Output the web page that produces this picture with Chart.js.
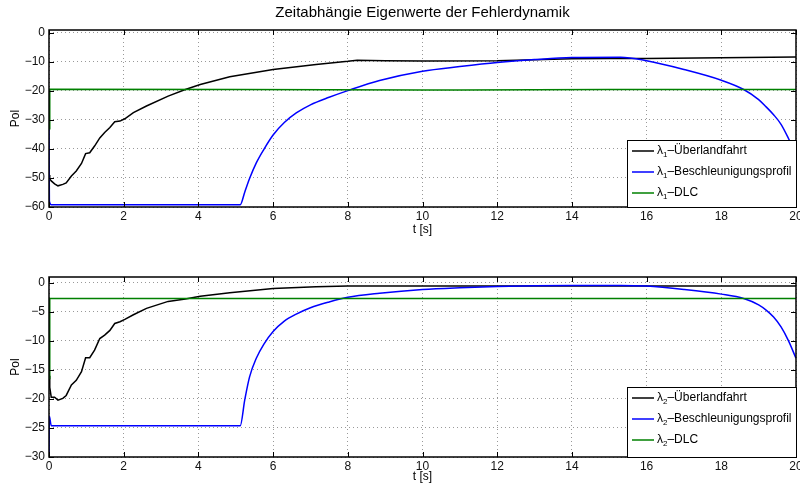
<!DOCTYPE html>
<html>
<head>
<meta charset="utf-8">
<script src="https://cdn.jsdelivr.net/npm/chart.js@4"></script>
<style>
  html, body { margin: 0; padding: 0; background: #fff; }
  #wrap { position: relative; width: 800px; height: 484px; }
  canvas { position: absolute; left: 0; }
</style>
</head>
<body>
<div id="wrap">
  <canvas id="chart1" width="800" height="242" style="top:0"></canvas>
  <canvas id="chart2" width="800" height="242" style="top:242px"></canvas>
</div>
<script>
// Zeitachsen (s)
const tUeber = [0, 0.02, 0.06, 0.15, 0.24, 0.37, 0.46, 0.6, 0.73, 0.87, 0.98, 1.09, 1.22, 1.36, 1.49, 1.63,
  1.76, 1.9, 2.03, 2.26, 2.61, 3.19, 3.65, 4.05, 4.84, 6, 7.15, 8, 8.25, 9, 10, 12, 14, 15, 16, 18, 20];
const tBeschl = [0, 0.01, 0.06, 5.12, 5.24, 5.37, 5.55, 5.75, 6, 6.3, 6.62, 7, 7.5, 8, 8.85, 10,
  11, 12, 13, 14, 15.3, 16, 17, 18, 18.6, 19, 19.2, 19.4, 19.6, 19.8, 20];
const tDlc = [0, 0.02, 5, 10, 11, 15, 20];

// Eigenwert 1
const l1Ueber = [-49, -50.3, -51, -52, -52.7, -52.2, -51.7, -49.3, -47.6, -45, -41.6, -41.3, -39, -36.2, -34.3, -32.6,
  -30.6, -30.4, -29.6, -27.5, -25.2, -21.8, -19.5, -17.8, -15.1, -12.6, -10.9, -9.8, -9.4, -9.6, -9.7, -9.6, -8.9, -8.8, -8.8, -8.6, -8.3];
const l1Beschl = [-33, -58, -59.2, -59.2, -54.9, -50.2, -44.8, -40.2, -35.2, -30.9, -27.6, -24.8, -22.2, -19.9, -16.4, -13.2,
  -11.6, -10.2, -9.2, -8.5, -8.4, -9.6, -12.6, -16.3, -19.5, -23, -25.5, -28.2, -31.5, -36.4, -42];
const l1Dlc = [-33, -19.4, -19.5, -19.7, -19.7, -19.5, -19.5];

// Eigenwert 2
const l2Ueber = [-16, -18, -19.7, -19.7, -20.2, -19.9, -19.4, -17.6, -16.8, -15.3, -12.9, -12.9, -11.6, -9.6, -9, -8.2,
  -7, -6.7, -6.3, -5.5, -4.4, -3.2, -2.8, -2.3, -1.7, -1, -0.7, -0.55, -0.55, -0.55, -0.55, -0.55, -0.55, -0.55, -0.55, -0.55, -0.55];
const l2Beschl = [-30, -23, -24.6, -24.6, -20.2, -16.2, -13, -10.6, -8.4, -6.6, -5.4, -4.3, -3.3, -2.5, -1.8, -1.15,
  -0.85, -0.65, -0.5, -0.45, -0.45, -0.57, -1.15, -1.95, -2.7, -3.8, -4.7, -5.9, -7.6, -10, -13];
const l2Dlc = [-16.5, -2.7, -2.7, -2.7, -2.7, -2.7, -2.7];

const seriesNames = ['Überlandfahrt', 'Beschleunigungsprofil', 'DLC'];
const seriesColors = ['#000000', '#0000ff', '#008000'];
const xTicks = { min: 0, max: 20, step: 2 };

const FONT = "'Liberation Sans', Arial, Helvetica, sans-serif";
Chart.defaults.font.family = FONT;
Chart.defaults.color = '#111';

const pts = (t, v) => t.map((x, i) => ({ x: x, y: v[i] }));
const minus = v => String(v).replace('-', '\u2212');

// Rahmen mit nach innen zeigenden Ticks
const axesFrame = {
  id: 'axesFrame',
  afterDatasetsDraw(chart) {
    const { ctx, chartArea: a, scales: { x, y } } = chart;
    ctx.save();
    ctx.strokeStyle = '#000';
    ctx.lineWidth = 1;
    ctx.beginPath();
    x.ticks.forEach(t => {
      const px = Math.round(x.getPixelForValue(t.value)) + 0.5;
      ctx.moveTo(px, a.top); ctx.lineTo(px, a.top + 5);
      ctx.moveTo(px, a.bottom); ctx.lineTo(px, a.bottom - 5);
    });
    y.ticks.forEach(t => {
      const py = Math.round(y.getPixelForValue(t.value)) + 0.5;
      ctx.moveTo(a.left, py); ctx.lineTo(a.left + 5, py);
      ctx.moveTo(a.right, py); ctx.lineTo(a.right - 5, py);
    });
    ctx.stroke();
    ctx.lineWidth = 1.5;
    ctx.strokeRect(a.left, a.top, a.right - a.left, a.bottom - a.top);
    ctx.restore();
  }
};

// Legende unten rechts mit tiefgestelltem Index
const subLegend = {
  id: 'subLegend',
  afterDraw(chart, args, opts) {
    const { ctx, chartArea: a } = chart;
    const w = 170, h = opts.height;
    const left = a.right - w + 1, top = a.bottom - h;
    ctx.save();
    ctx.fillStyle = '#fff';
    ctx.fillRect(left, top, w, h);
    ctx.strokeStyle = '#000';
    ctx.lineWidth = 1;
    ctx.strokeRect(left + 0.5, top + 0.5, w - 1, h);
    chart.data.datasets.forEach((ds, i) => {
      const cy = top + 11 + i * 21;
      ctx.strokeStyle = ds.borderColor;
      ctx.lineWidth = 1.5;
      ctx.beginPath();
      ctx.moveTo(left + 5, cy);
      ctx.lineTo(left + 27, cy);
      ctx.stroke();
      ctx.fillStyle = '#000';
      ctx.textBaseline = 'middle';
      let tx = left + 30;
      ctx.font = '12px ' + FONT;
      ctx.fillText('\u03bb', tx, cy);
      tx += ctx.measureText('\u03bb').width;
      ctx.font = '8px ' + FONT;
      ctx.fillText(opts.index, tx, cy + 4);
      tx += ctx.measureText(opts.index).width;
      ctx.font = '12px ' + FONT;
      ctx.fillText('\u2013' + ds.label, tx, cy);
    });
    ctx.restore();
  }
};

function makeChart(id, idx, data, yMin, yStep, opts) {
  const datasets = data.map((d, i) => ({
    label: seriesNames[i],
    data: pts(d[0], d[1]),
    borderColor: seriesColors[i],
    borderWidth: 1.5,
    pointRadius: 0,
    fill: false,
    order: 3 - i,
    cubicInterpolationMode: i === 1 ? 'monotone' : 'default',
    tension: 0
  }));
  return new Chart(document.getElementById(id), {
    type: 'line',
    data: { datasets: datasets },
    plugins: [axesFrame, subLegend],
    options: {
      responsive: false,
      animation: false,
      layout: { padding: { left: 0, right: 4, top: opts.padTop, bottom: 0 } },
      plugins: {
        legend: { display: false },
        tooltip: { enabled: false },
        title: {
          display: !!opts.title,
          text: opts.title,
          fullSize: false,
          color: '#000',
          font: { size: 15, weight: 'normal' },
          padding: { top: 4, bottom: 8 }
        },
        subLegend: { index: idx, height: opts.legendHeight }
      },
      scales: {
        x: {
          type: 'linear',
          min: xTicks.min,
          max: xTicks.max,
          border: { display: false, dash: [1, 3] },
          grid: { color: '#999', drawTicks: false, tickLength: 0 },
          ticks: { stepSize: xTicks.step, padding: 2, font: { size: 12 }, maxRotation: 0, callback: minus },
          title: { display: true, text: 't [s]', color: '#000', font: { size: 12 }, padding: { top: 0, bottom: opts.xTitlePad } },
          afterFit(s) { s.height = opts.xHeight; s.paddingLeft = 0; s.paddingRight = 0; }
        },
        y: {
          type: 'linear',
          min: yMin,
          max: 1,
          border: { display: false, dash: [1, 3] },
          grid: { color: '#999', drawTicks: false, tickLength: 0 },
          ticks: { stepSize: yStep, includeBounds: false, padding: 4, font: { size: 12 }, callback: minus },
          title: { display: true, text: 'Pol', color: '#000', font: { size: 12 }, padding: { top: 8, bottom: 0 } },
          afterFit(s) { s.width = 49; }
        }
      }
    }
  });
}

makeChart('chart1', '1', [[tUeber, l1Ueber], [tBeschl, l1Beschl], [tDlc, l1Dlc]], -60, 10, {
  title: 'Zeitabhängie Eigenwerte der Fehlerdynamik', padTop: 0, xHeight: 35, xTitlePad: 5, legendHeight: 67
});
makeChart('chart2', '2', [[tUeber, l2Ueber], [tBeschl, l2Beschl], [tDlc, l2Dlc]], -30, 5, {
  title: '', padTop: 35, xHeight: 27, xTitlePad: 0, legendHeight: 70
});
</script>
</body>
</html>
